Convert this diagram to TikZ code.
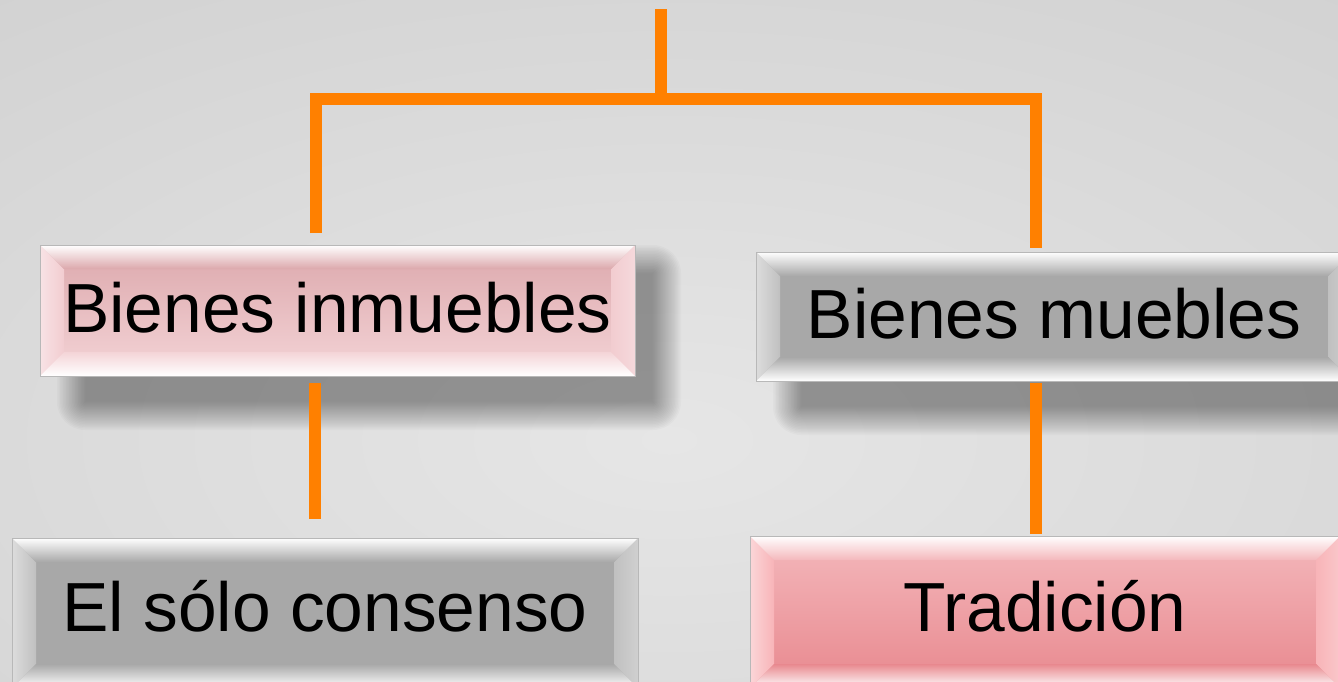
\documentclass[tikz,border=0pt]{standalone}
\usepackage{fontspec}
\setmainfont{Liberation Sans}
\definecolor{orng}{HTML}{FF8000}
\definecolor{bgin}{HTML}{E6E6E6}
\definecolor{bgout}{HTML}{C4C4C4}
\definecolor{gmain}{HTML}{A8A8A8}
\definecolor{gside}{HTML}{C0C0C0}
\definecolor{pAtop}{HTML}{DCA8AC}
\definecolor{pAbot}{HTML}{F4D4D7}
\definecolor{pAside}{HTML}{F2CCD0}
\definecolor{pBtop}{HTML}{F4B8BC}
\definecolor{pBbot}{HTML}{E8888E}
\definecolor{pBside}{HTML}{F8B4B8}
\newcommand{\boxshadow}[4]{%
  \foreach \k in {0,...,19}{%
    \pgfmathsetmacro{\e}{28-1.5*\k}
    \fill[black,opacity=0.019,rounded corners=\e pt] ({#1+45-\e},{#2+28-\e}) rectangle ({#3+18+\e},{#4+26+\e});
  }%
}
\newcommand{\bevface}[7]{%
  \shade[top color=#5, bottom color=#6] (#1,#2) rectangle (#3,#4);
  \shade[left color=#7!55!white, right color=#7] (#1,#2) -- ({#1+24},{#2+24}) -- ({#1+24},{#4-24}) -- (#1,#4) -- cycle;
  \shade[left color=#7, right color=#7!75!white] (#3,#2) -- ({#3-24},{#2+24}) -- ({#3-24},{#4-24}) -- (#3,#4) -- cycle;
  \shade[top color=white, bottom color=#5] (#1,#2) -- (#3,#2) -- ({#3-24},{#2+24}) -- ({#1+24},{#2+24}) -- cycle;
  \shade[top color=#6, bottom color=white] (#1,#4) -- (#3,#4) -- ({#3-24},{#4-24}) -- ({#1+24},{#4-24}) -- cycle;
  \draw[line width=1pt, black!28] (#1,#2) rectangle (#3,#4);
}
\begin{document}
\begin{tikzpicture}[x=1pt,y=-1pt,
  conn/.style={orng, line width=12pt},
  lbl/.style={font=\fontsize{69.5}{80}\selectfont, text=black, inner sep=0pt, anchor=base}]
\useasboundingbox (0,0) rectangle (1338,681);
\clip (0,0) rectangle (1338,681);
% background
\shade[inner color=bgin, outer color=bgout] (-1231,-520) rectangle (2569,1400);
% shadows
\boxshadow{40}{245}{635}{376}
\boxshadow{756}{252}{1352}{381}
% boxes
\bevface{40}{245}{635}{376}{pAtop}{pAbot}{pAside}
\bevface{756}{252}{1352}{381}{gmain}{gmain}{gside}
\bevface{12}{538}{638}{688}{gmain}{gmain}{gside}
\bevface{750}{536}{1340}{688}{pBtop}{pBbot}{pBside}
% labels
\node[lbl] (b1) at (337.5,332) {Bienes inmuebles};
\node[lbl] (b2) at (1054,338) {Bienes muebles};
\node[lbl] (b3) at (325,631) {El sólo consenso};
\node[lbl] (b4) at (1045,631) {Tradición};
% connectors
\coordinate (t0) at (661,9);
\coordinate (t1) at (661,99);
\coordinate (l0) at (316,99);
\coordinate (l1) at (316,233);
\coordinate (r0) at (1036,99);
\coordinate (r1) at (1036,248);
\coordinate (lm0) at (315,383);
\coordinate (lm1) at (315,519);
\coordinate (rm0) at (1036,383);
\coordinate (rm1) at (1036,534);
\draw[conn] (t0) -- (t1);
\draw[conn] (l1) -- (l0) -- (r0) -- (r1);
\draw[conn] (lm0) -- (lm1);
\draw[conn] (rm0) -- (rm1);
\end{tikzpicture}
\end{document}
